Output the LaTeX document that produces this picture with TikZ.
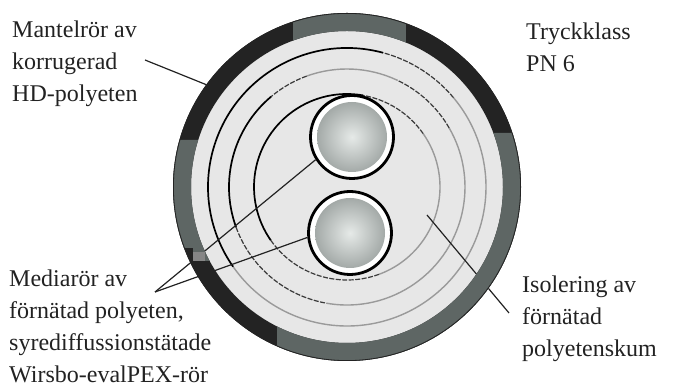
\documentclass[tikz,border=0pt]{standalone}
\usepackage{fontspec}
\setmainfont{Liberation Serif}
\definecolor{jackblack}{HTML}{232323}
\definecolor{jackgrey}{HTML}{5E6664}
\definecolor{foam}{HTML}{E7E7E7}
\definecolor{ringgrey}{HTML}{9A9A9A}
\definecolor{ringdark}{HTML}{3A3A3A}
\definecolor{inkcol}{HTML}{222222}
\definecolor{coreA}{HTML}{E6EAE8}
\definecolor{coreB}{HTML}{A6ACAA}
\definecolor{coreC}{HTML}{5C6260}
\pgfdeclareradialshading{pipeshade}{\pgfpoint{0bp}{0bp}}{color(0bp)=(coreA); color(24bp)=(coreB); color(50bp)=(coreC)}
\tikzset{
  label text/.style={anchor=north west,inner sep=0pt,align=left,text=inkcol,font=\fontsize{24}{32}\selectfont},
  leader/.style={draw=inkcol,line width=1.2pt},
  ring black/.style={draw=black,line width=1.7pt},
  ring dash/.style={draw=ringdark,line width=1.2pt,dash pattern=on 5pt off 1.5pt},
  ring grey/.style={draw=ringgrey,line width=1.4pt},
  pipe wall/.style={circle,draw=black,line width=2.8pt,fill=white,minimum size=83pt,inner sep=0pt},
  pipe core/.style={circle,shading=pipeshade,minimum size=70pt,inner sep=0pt},
}
\newcommand{\ringarc}[4]{\draw[#1] (C) ++(#3:#2pt) arc[start angle=#3,end angle=#4,radius=#2pt];}
\begin{document}
\begin{tikzpicture}[x=1pt,y=1pt]
\useasboundingbox (0,0) rectangle (673,385);
\coordinate (C) at (347,198);
% foam
\fill[foam] (C) circle[radius=160pt];
% rings
\ringarc{ring grey}{139}{215}{400}
\ringarc{ring dash}{139}{40}{75}
\ringarc{ring black}{139}{75}{215}
\ringarc{ring grey}{118}{260}{390}
\ringarc{ring dash}{118}{30}{65}
\ringarc{ring grey}{118}{65}{110}
\ringarc{ring dash}{118}{110}{130}
\ringarc{ring black}{118}{130}{200}
\ringarc{ring dash}{118}{200}{260}
\ringarc{ring grey}{93}{290}{395}
\ringarc{ring dash}{93}{35}{80}
\ringarc{ring black}{93}{80}{215}
\ringarc{ring dash}{93}{215}{290}
% pipes
\node[pipe wall] (pipeA) at (352,248) {};
\node[pipe wall] (pipeB) at (350,152) {};
% outer jacket, named for connector ends
\node[circle,minimum size=348pt,inner sep=0pt] (jacket) at (C) {};
% labels
\node[label text] (mantel) at (12,366) {\rule{0pt}{18pt}Mantelrör av\\korrugerad\\HD-polyeten};
\node[label text] (tryck) at (526,364) {\rule{0pt}{18pt}Tryckklass\\PN 6};
\node[label text] (media) at (9,117) {\rule{0pt}{18pt}Mediarör av\\förnätad polyeten,\\syrediffussionstätade\\Wirsbo-evalPEX-rör};
\node[label text] (isol) at (522,111) {\rule{0pt}{18pt}Isolering av\\förnätad\\polyetenskum};
% connectors (under the jacket)
\coordinate (mantelEnd) at (145,325);
\coordinate (mediaApex) at (155,93);
\coordinate (isolFoam) at (427,170);
\coordinate (isolEnd) at (509,72);
\draw[leader] (mantelEnd) -- (jacket.144);
\draw[leader] (mediaApex) -- (pipeA.212);
\draw[leader] (mediaApex) -- (pipeB.186);
\draw[leader] (isolFoam) -- (isolEnd);
% pipe cores
\node[pipe core] at (pipeA) {};
\node[pipe core] at (pipeB) {};
% jacket
\begin{scope}[even odd rule]
  \clip (C) circle[radius=174pt] (C) circle[radius=156pt];
  \fill[jackblack] (150,0) rectangle (560,385);
  \fill[jackgrey] (293,385) rectangle (406,285);
  \fill[jackgrey] (160,245) -- (240,245) -- (240,124) -- (193,124) -- (193,137) -- (160,137) -- cycle;
  \fill[gray!95!white] (193,124) rectangle (205,133);
  \fill[jackgrey] (490,252) -- (540,252) -- (540,5) -- (277,5) -- (277,85) -- (C) -- cycle;
\end{scope}
\draw[jackblack,line width=0.8pt] (jacket) circle[radius=173.6pt];
\end{tikzpicture}
\end{document}
